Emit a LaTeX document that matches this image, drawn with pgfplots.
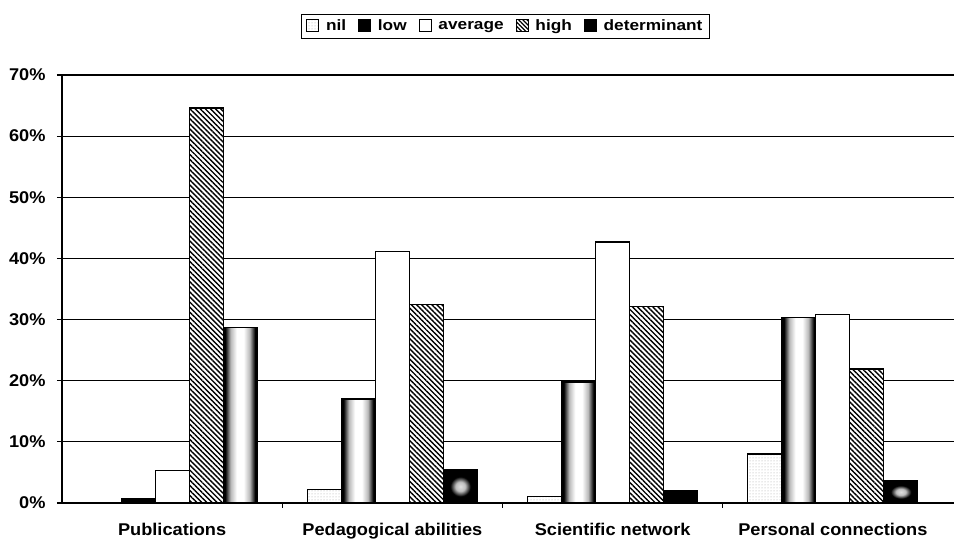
\documentclass[border=0pt]{standalone}
\usepackage{fontspec}
\setmainfont{Liberation Sans}
\newfontfamily\tickfont[FakeStretch=1.07]{Liberation Sans}
\newfontfamily\legfont[FakeStretch=1.15]{Liberation Sans}
\usepackage{pgfplots}
\pgfplotsset{compat=1.18}
\usetikzlibrary{patterns,patterns.meta}
\pgfdeclarehorizontalshading{glow}{100bp}{color(0bp)=(black); color(25bp)=(black); color(28bp)=(black); color(36bp)=(gray!55); color(45bp)=(white); color(55bp)=(white); color(64bp)=(gray!55); color(72bp)=(black); color(75bp)=(black); color(100bp)=(black)}
\pgfdeclareradialshading{spot}{\pgfpoint{0bp}{0bp}}{color(0bp)=(gray!25); color(7bp)=(gray!50); color(15bp)=(black); color(100bp)=(black)}
\begin{document}
\begin{tikzpicture}
\useasboundingbox (0,0) rectangle (954pt,545pt);
\begin{axis}[
  at={(62pt,42pt)}, anchor=south west,
  scale only axis, width=892pt, height=428pt,
  xmin=-0.5, xmax=3.55, ymin=0, ymax=70,
  ybar=0pt, bar width=34pt,
  axis x line*=bottom, axis y line*=left,
  axis line style={black, line width=1.2pt},
  ytick={0,10,...,70},
  yticklabel={\pgfmathprintnumber{\tick}\%},
  /pgf/number format/assume math mode=true,
  ymajorgrids, grid style={black, line width=1.1pt},
  major tick length=5pt,
  y tick style={black, line width=1.1pt},
  tick align=outside,
  xtick={0,1,2,3},
  xticklabels={Publications, Pedagogical abilities, Scientific network, Personal connections},
  x tick style={draw=none},
  extra x ticks={0.5,1.5,2.5},
  extra x tick labels={},
  extra x tick style={grid=none, x tick style={draw=black, line width=1pt}},
  tick label style={font=\tickfont\bfseries\fontsize{17}{19}\selectfont},
  xticklabel style={yshift=-12pt},
  yticklabel style={xshift=-8pt},
  legend columns=5,
  legend style={at={(0.497,1.114)}, anchor=center, draw=black, line width=1pt,
    font=\legfont\bfseries\fontsize{15}{17}\selectfont, inner xsep=5pt, inner ysep=4pt,
    /tikz/every odd column/.append style={column sep=5pt},
    /tikz/every even column/.append style={column sep=10pt}},
  legend image code/.code={\draw[#1, line width=0.8pt] (0pt,-5pt) rectangle (12pt,7pt);},
]
\addlegendimage{draw=black, preaction={fill=white}, pattern=dots, pattern color=gray!70}
\addlegendentry{nil}
\addlegendimage{draw=black, fill=black}
\addlegendentry{low}
\addlegendimage{draw=black, fill=white}
\addlegendentry{average}
\addlegendimage{draw=black, preaction={fill=white}, pattern={Lines[angle=-45,distance=3pt,line width=1.3pt]}, pattern color=black}
\addlegendentry{high}
\addlegendimage{draw=black, fill=black}
\addlegendentry{determinant}
% nil
\addplot[forget plot, bar shift=-68pt, draw=black, line width=1.2pt, preaction={fill=white}, pattern=dots, pattern color=gray!70]
  coordinates {(0,0) (1,2.2) (2,1.0) (3,8.0)};
% low
\addplot[forget plot, bar shift=-34pt, draw=black, line width=1.2pt, fill=black]
  coordinates {(0,0.8)};
\addplot[forget plot, bar shift=-34pt, draw=black, line width=1.2pt, shade, shading=glow]
  coordinates {(1,17.0)};
\addplot[forget plot, bar shift=-34pt, draw=black, line width=1.2pt, shade, shading=glow]
  coordinates {(2,19.8)};
\addplot[forget plot, bar shift=-34pt, draw=black, line width=1.2pt, shade, shading=glow]
  coordinates {(3,30.3)};
% average
\addplot[forget plot, bar shift=0pt, draw=black, line width=1.2pt, fill=white]
  coordinates {(0,5.3) (1,41.1) (2,42.7) (3,30.8)};
% high
\addplot[forget plot, bar shift=34pt, draw=black, line width=1.2pt, preaction={fill=white}, pattern={Lines[angle=-45,distance=3.6pt,line width=1.4pt]}, pattern color=black]
  coordinates {(0,64.6) (1,32.4) (2,32.1) (3,21.9)};
% determinant
\addplot[forget plot, bar shift=68pt, draw=black, line width=1.2pt, shade, shading=glow]
  coordinates {(0,28.7)};
\addplot[forget plot, bar shift=68pt, draw=black, line width=1.2pt, shade, shading=spot]
  coordinates {(1,5.4)};
\addplot[forget plot, bar shift=68pt, draw=black, line width=1.2pt, fill=black]
  coordinates {(2,2.1)};
\addplot[forget plot, bar shift=68pt, draw=black, line width=1.2pt, shade, shading=spot]
  coordinates {(3,3.6)};
\end{axis}
\end{tikzpicture}
\end{document}
